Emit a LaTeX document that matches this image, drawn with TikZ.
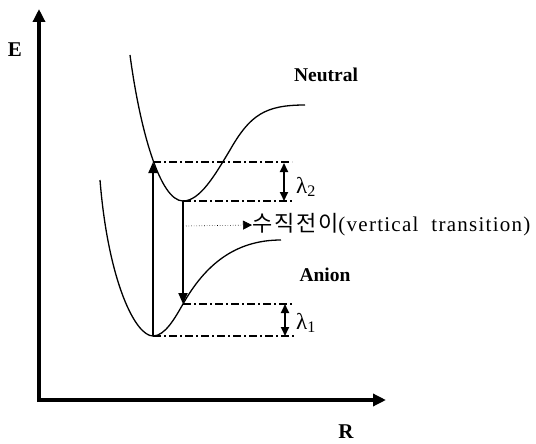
\documentclass[tikz,border=0pt]{standalone}
\usepackage{fontspec}
\setmainfont{Liberation Serif}
\newfontfamily\krfont[LetterSpace=8]{Noto Sans CJK KR}
\usetikzlibrary{arrows.meta}
\begin{document}
\begin{tikzpicture}[x=1pt,y=-1pt,
  curve/.style={line width=1.3pt},
  axis/.style={line width=4pt,-{Triangle[length=13pt,width=12pt]}},
  trans/.style={line width=2pt,-{Triangle[length=11pt,width=9pt]}},
  level/.style={line width=1.2pt,dash pattern=on 8pt off 3pt on 2pt off 3pt},
  lam/.style={line width=1.8pt,{Triangle[length=9pt,width=8pt]}-{Triangle[length=9pt,width=8pt]}},
  lbl/.style={font=\fontsize{19.5}{22}\selectfont\bfseries},
  big/.style={font=\fontsize{21}{24}\selectfont\bfseries},
  lamlbl/.style={font=\fontsize{23}{25}\selectfont,anchor=west,inner sep=0pt}]
\useasboundingbox (0,0) rectangle (536,444);
% axes
\coordinate (ytip) at (39,9);
\coordinate (xtip) at (386,400);
\draw[axis] (39,402) -- (ytip);
\draw[axis] (37,400) -- (xtip);
\node[big] (E) at (15,50) {E};
\node[big] (R) at (346,432) {R};
% key points
\coordinate (amin) at (153,336);
\coordinate (nmin) at (183,201);
\coordinate (nup) at (153,162);
\coordinate (adown) at (183,304);
% anion curve
\draw[curve] (100,180) .. controls (108,280) and (135,336) .. (amin)
  .. controls (165,336) and (175,318) .. (adown)
  .. controls (205,265) and (235,240) .. (281,240);
% neutral curve
\draw[curve] (130,55) .. controls (140,130) and (160,201) .. (nmin)
  .. controls (200,201) and (215,175) .. (230,150)
  .. controls (250,115) and (265,105) .. (305,105);
% levels
\coordinate (l1) at (292,162);
\coordinate (l2) at (292,201);
\coordinate (l3) at (294,304);
\coordinate (l4) at (294,336);
\draw[level] (nup) -- (l1);
\draw[level] (nmin) -- (l2);
\draw[level] (adown) -- (l3);
\draw[level] (amin) -- (l4);
% transitions
\draw[trans] (amin) -- (nup);
\draw[trans] (nmin) -- (adown);
% lambdas
\coordinate (a2t) at (284,163);
\coordinate (a2b) at (284,201);
\coordinate (a1t) at (285,304);
\coordinate (a1b) at (285,336);
\draw[lam] (a2t) -- (a2b);
\draw[lam] (a1t) -- (a1b);
\node[lamlbl] (lam2) at (296,187) {λ\textsubscript{2}};
\node[lamlbl] (lam1) at (296,323) {λ\textsubscript{1}};
% labels
\node[lbl] (neu) at (326,75) {Neutral};
\node[lbl] (ani) at (325,275) {Anion};
% vertical transition label
\node[anchor=west,inner sep=0pt] (vt) at (252,225) {\krfont\fontsize{22}{24}\selectfont 수직전이\rmfamily\fontsize{21}{23}\selectfont\addfontfeature{LetterSpace=6}(vertical~ transition)};
\coordinate (ds) at (186,226);
\draw[dotted,line width=0.6pt,-{Triangle[length=9pt,width=9pt]}] (ds) -- (vt.west);
\end{tikzpicture}
\end{document}
